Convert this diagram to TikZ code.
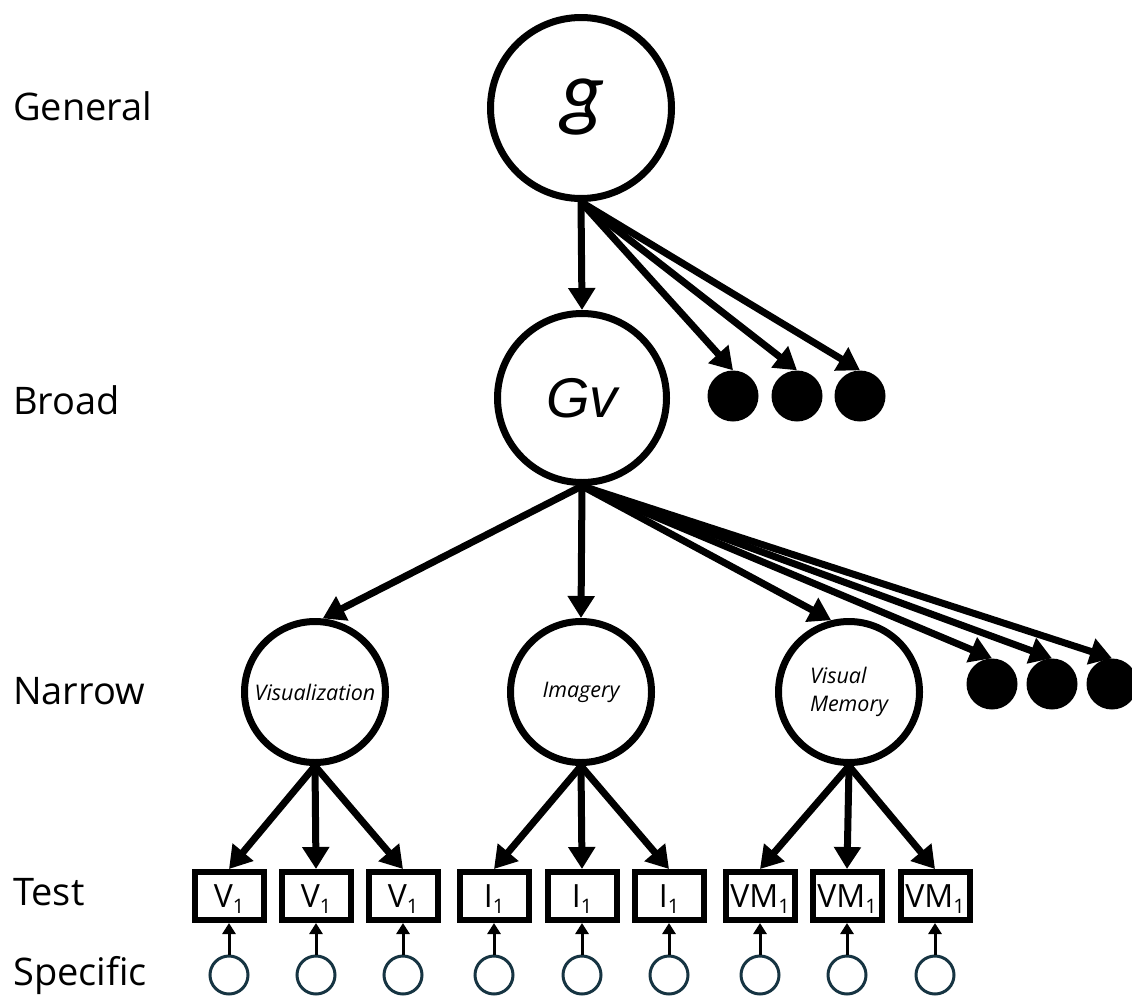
\documentclass[tikz,border=0pt]{standalone}
\usepackage{fontspec}
\setmainfont{Open Sans}
\newfontfamily\gfont{Carlito}
\newfontfamily\gvfont{Liberation Sans}
\usetikzlibrary{arrows.meta, positioning}
\definecolor{errteal}{RGB}{22,52,66}
\newcommand{\tsub}[1]{\raisebox{-6pt}{\fontsize{20}{20}\selectfont #1}}
\tikzset{
  lvlabel/.style={anchor=base west, inner sep=0pt,
    font=\fontsize{38}{40}\selectfont},
  factor/.style={circle, draw=black, line width=7pt, fill=white, inner sep=0pt},
  narrowtxt/.style={font=\fontsize{21.5}{28}\selectfont\itshape},
  blob/.style={circle, fill=black, minimum size=51pt, inner sep=0pt},
  testbox/.style={rectangle, draw=black, line width=6pt, fill=white,
    minimum width=69pt, minimum height=48pt, inner sep=0pt,
    text height=23pt, text depth=0pt, font=\fontsize{32}{32}\selectfont},
  errcirc/.style={circle, draw=errteal, line width=3pt,
    minimum size=38pt, inner sep=0pt},
  load/.style={-{Triangle[length=22pt, width=26pt]}, line width=7pt},
  uniq/.style={-{Triangle[length=11pt, width=13pt]}, line width=3pt},
}

\begin{document}
\begin{tikzpicture}[x=1pt, y=-1pt]
\useasboundingbox (0,0) rectangle (1132,996);

% level names
\node[lvlabel] (lgen) at (13,120) {General};
\node[lvlabel] (lbro) at (13,414) {Broad};
\node[lvlabel] (lnar) at (13,704) {Narrow};
\node[lvlabel] (ltes) at (13,905) {Test};
\node[lvlabel] (lspe) at (13,985) {Specific};

% factors
\node[factor, minimum size=181pt] (g) at (581,108) {};
\node[inner sep=0pt, anchor=base]
  (glab) at (583,120) {\gfont\itshape\fontsize{86}{86}\selectfont g};
\node[factor, minimum size=169pt, font=\fontsize{56}{56}\gvfont\itshape]
  (gv) at (582,398) {Gv};
\node[factor, minimum size=141pt, narrowtxt] (vis) at (315,692) {Visualization};
\node[factor, minimum size=141pt, narrowtxt] (img) at (581,692) {Imagery};
\node[factor, minimum size=141pt, narrowtxt, align=left]
  (vmem) at (849,692) {Visual\\Memory};

% other broad / narrow abilities
\node[blob] (bdot1) at (733,396) {};
\node[blob] (bdot2) at (797,396) {};
\node[blob] (bdot3) at (860,396) {};
\node[blob] (ndot1) at (992,684) {};
\node[blob] (ndot2) at (1052,684) {};
\node[blob] (ndot3) at (1112,684) {};

% tests
\node[testbox] (v1) at (229,896) {V\tsub{1}};
\node[testbox] (v2) at (316,896) {V\tsub{1}};
\node[testbox] (v3) at (403,896) {V\tsub{1}};
\node[testbox] (i1) at (494,896) {I\tsub{1}};
\node[testbox] (i2) at (582,896) {I\tsub{1}};
\node[testbox] (i3) at (669,896) {I\tsub{1}};
\node[testbox] (m1) at (760,896) {VM\tsub{1}};
\node[testbox] (m2) at (847,896) {VM\tsub{1}};
\node[testbox] (m3) at (935,896) {VM\tsub{1}};

% specific parts
\node[errcirc] (e1) at (229,975) {};
\node[errcirc] (e2) at (316,975) {};
\node[errcirc] (e3) at (403,975) {};
\node[errcirc] (e4) at (494,975) {};
\node[errcirc] (e5) at (582,975) {};
\node[errcirc] (e6) at (669,975) {};
\node[errcirc] (e7) at (760,975) {};
\node[errcirc] (e8) at (847,975) {};
\node[errcirc] (e9) at (935,975) {};

% loadings
\draw[load] (g.south) -- (gv.north);
\draw[load] (g.south) -- (bdot1.north);
\draw[load] (g.south) -- (bdot2.north);
\draw[load] (g.south) -- (bdot3.north);

\draw[load] (gv.south) -- (vis.84);
\draw[load] (gv.south) -- (img.north);
\draw[load] (gv.south) -- (vmem.104);
\draw[load] (gv.south) -- (ndot1.north);
\draw[load] (gv.south) -- (ndot2.north);
\draw[load] (gv.south) -- (ndot3.north);

\draw[load] (vis.south) -- (v1.north);
\draw[load] (vis.south) -- (v2.north);
\draw[load] (vis.south) -- (v3.north);
\draw[load] (img.south) -- (i1.north);
\draw[load] (img.south) -- (i2.north);
\draw[load] (img.south) -- (i3.north);
\draw[load] (vmem.south) -- (m1.north);
\draw[load] (vmem.south) -- (m2.north);
\draw[load] (vmem.south) -- (m3.north);

\draw[uniq] (e1.north) -- (v1.south);
\draw[uniq] (e2.north) -- (v2.south);
\draw[uniq] (e3.north) -- (v3.south);
\draw[uniq] (e4.north) -- (i1.south);
\draw[uniq] (e5.north) -- (i2.south);
\draw[uniq] (e6.north) -- (i3.south);
\draw[uniq] (e7.north) -- (m1.south);
\draw[uniq] (e8.north) -- (m2.south);
\draw[uniq] (e9.north) -- (m3.south);
\end{tikzpicture}
\end{document}
